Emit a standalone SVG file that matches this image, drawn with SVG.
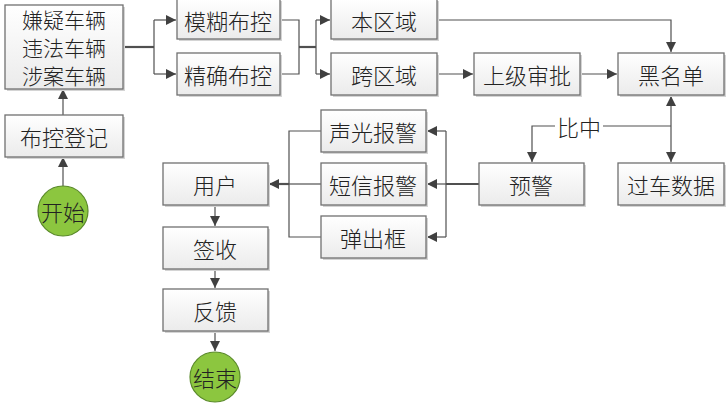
<svg xmlns="http://www.w3.org/2000/svg" width="728" height="412" viewBox="0 0 728 412">
<defs>
<linearGradient id="bg" x1="0" y1="0" x2="0" y2="1">
<stop offset="0" stop-color="#ffffff"/>
<stop offset="1" stop-color="#ebebeb"/>
</linearGradient>
<marker id="ah" viewBox="0 0 10 10" refX="10" refY="5" markerWidth="10" markerHeight="10" markerUnits="userSpaceOnUse" orient="auto-start-reverse">
<path d="M0,0 L10,5 L0,10 Z" fill="#404040"/>
</marker>
</defs>
<style>
.box{fill:url(#bg);stroke:#707070;stroke-width:1.3}
.sh{fill:#d4d4d4}
.circ{fill:#8cc63f;stroke:#5a8a2a;stroke-width:1.2}
.t{font-family:"Noto Sans CJK SC","Noto Sans CJK TC",sans-serif;font-size:22px;font-weight:300;fill:#222;text-anchor:middle;dominant-baseline:central}
.s{font-size:21px}
.c{fill:none;stroke:#505050;stroke-width:1.2}
.thick{stroke-width:2.2}
.a{marker-end:url(#ah)}
</style>
<rect width="728" height="412" fill="#ffffff"/>
<g id="connectors">
<path class="c a" d="M63,186 V157"/>
<path class="c a" d="M63,115 V89"/>
<path class="c thick" d="M123,47 H154"/>
<path class="c" d="M154,20 V74"/>
<path class="c a" d="M154,20 H176"/>
<path class="c a" d="M154,74 H176"/>
<path class="c" d="M280,20 H299 V74 H280"/>
<path class="c thick" d="M299,47 H316"/>
<path class="c" d="M316,20 V74"/>
<path class="c a" d="M316,20 H330"/>
<path class="c a" d="M316,74 H330"/>
<path class="c a" d="M437,74 H473"/>
<path class="c a" d="M580,74 H617"/>
<path class="c a" d="M437,20 H671 V52"/>
<path class="c a" d="M671,126 V96" />
<path class="c a" d="M671,126 V162" />
<path class="c a" d="M671,126 H532 V162"/>
<path class="c thick" d="M479,184 H446"/>
<path class="c" d="M446,131 V237"/>
<path class="c a" d="M446,131 H427"/>
<path class="c a" d="M446,184 H427"/>
<path class="c a" d="M446,237 H427"/>
<path class="c" d="M321,131 H289 V237 H321"/>
<path class="c" d="M321,184 H289"/>
<path class="c thick a" d="M289,184 H269"/>
<path class="c a" d="M215,205 V226"/>
<path class="c a" d="M215,269 V288"/>
<path class="c a" d="M215,332 V351"/>
<rect x="555" y="114" width="48" height="24" fill="#ffffff"/>
<text class="t" x="579" y="126">比中</text>
</g>
<g id="n_vehicles"><rect class="sh" x="7" y="7" width="118" height="84"/><rect class="box" x="5" y="5" width="118" height="84"/>
<text class="t s" x="64" y="19">嫌疑车辆</text><text class="t s" x="64" y="47">违法车辆</text><text class="t s" x="64" y="75">涉案车辆</text></g>
<g id="n_register"><rect class="sh" x="7" y="117" width="118" height="42"/><rect class="box" x="5" y="115" width="118" height="42"/><text class="t" x="64" y="136">布控登记</text></g>
<g id="n_start"><circle class="circ" cx="63" cy="211" r="25"/><text class="t" x="63" y="211">开始</text></g>
<g id="n_fuzzy"><rect class="sh" x="179" y="1" width="103" height="40"/><rect class="box" x="177" y="-1" width="103" height="40"/><text class="t" x="228" y="20">模糊布控</text></g>
<g id="n_exact"><rect class="sh" x="179" y="55" width="103" height="42"/><rect class="box" x="177" y="53" width="103" height="42"/><text class="t" x="228" y="74">精确布控</text></g>
<g id="n_local"><rect class="sh" x="333" y="1" width="106" height="40"/><rect class="box" x="331" y="-1" width="106" height="40"/><text class="t" x="384" y="20">本区域</text></g>
<g id="n_cross"><rect class="sh" x="333" y="55" width="106" height="42"/><rect class="box" x="331" y="53" width="106" height="42"/><text class="t" x="384" y="74">跨区域</text></g>
<g id="n_approve"><rect class="sh" x="476" y="55" width="106" height="42"/><rect class="box" x="474" y="53" width="106" height="42"/><text class="t" x="527" y="74">上级审批</text></g>
<g id="n_blacklist"><rect class="sh" x="620" y="55" width="106" height="42"/><rect class="box" x="618" y="53" width="106" height="42"/><text class="t" x="671" y="74">黑名单</text></g>
<g id="n_passdata"><rect class="sh" x="620" y="165" width="106" height="42"/><rect class="box" x="618" y="163" width="106" height="42"/><text class="t" x="671" y="184">过车数据</text></g>
<g id="n_warning"><rect class="sh" x="481" y="165" width="105" height="42"/><rect class="box" x="479" y="163" width="105" height="42"/><text class="t" x="531" y="184">预警</text></g>
<g id="n_soundlight"><rect class="sh" x="323" y="112" width="105" height="42"/><rect class="box" x="321" y="110" width="105" height="42"/><text class="t" x="373" y="131">声光报警</text></g>
<g id="n_sms"><rect class="sh" x="323" y="165" width="105" height="42"/><rect class="box" x="321" y="163" width="105" height="42"/><text class="t" x="373" y="184">短信报警</text></g>
<g id="n_popup"><rect class="sh" x="323" y="218" width="105" height="42"/><rect class="box" x="321" y="216" width="105" height="42"/><text class="t" x="373" y="237">弹出框</text></g>
<g id="n_user"><rect class="sh" x="165" y="165" width="105" height="42"/><rect class="box" x="163" y="163" width="105" height="42"/><text class="t" x="215" y="184">用户</text></g>
<g id="n_sign"><rect class="sh" x="165" y="229" width="105" height="42"/><rect class="box" x="163" y="227" width="105" height="42"/><text class="t" x="215" y="248">签收</text></g>
<g id="n_feedback"><rect class="sh" x="165" y="291" width="105" height="42"/><rect class="box" x="163" y="289" width="105" height="42"/><text class="t" x="215" y="310">反馈</text></g>
<g id="n_end"><circle class="circ" cx="215" cy="377" r="25"/><text class="t" x="215" y="377">结束</text></g>
</svg>
